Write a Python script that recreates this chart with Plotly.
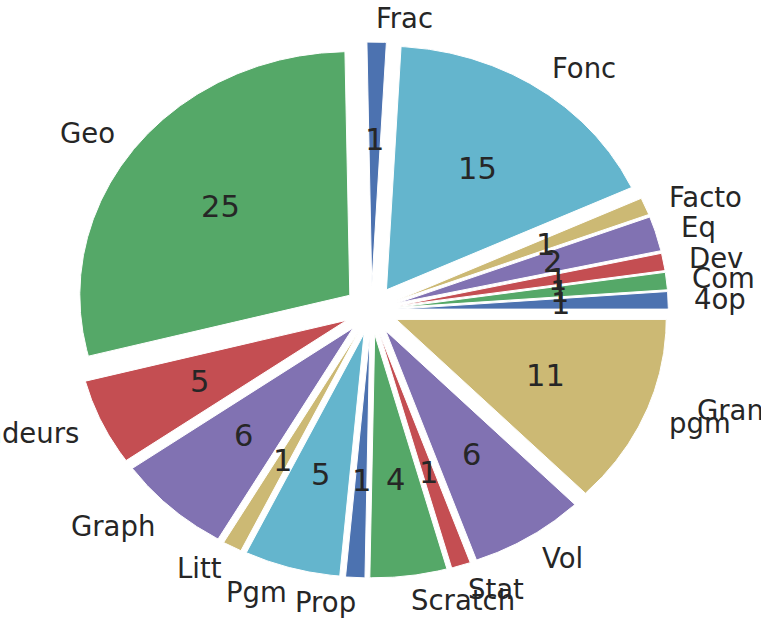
import numpy as np
import plotly.graph_objects as go

# ---- data ----
labels = ["4op", "Com", "Dev", "Eq", "Facto", "Fonc", "Frac", "Geo", "Grandeurs",
          "Graph", "Litt", "Pgm", "Prop", "Scratch", "Stat", "Vol", "pgm"]
values = [1, 1, 1, 2, 1, 15, 1, 25, 5, 6, 1, 5, 1, 4, 1, 6, 11]
palette = ["#4C72B0", "#55A868", "#C44E52", "#8172B2", "#CCB974", "#64B5CD"]
extra_label = "Grandeurs"          # overlapping stray label at right side
extra_label_pos = (1.21, -0.41)

# ---- pie geometry (matplotlib-like) ----
explode = 0.1
labeldistance = 1.1
pctdistance = 0.6
radius = 1.0
text_color = "#262626"
font_family = "DejaVu Sans"

vals = np.array(values, dtype=float)
frac = vals / vals.sum()
starts = np.concatenate([[0], np.cumsum(frac)[:-1]]) * 360.0
ends = np.cumsum(frac) * 360.0

fig = go.Figure()
annotations = []
for i, (lab, v) in enumerate(zip(labels, values)):
    t1, t2 = starts[i], ends[i]
    tm = np.deg2rad((t1 + t2) / 2)
    cx = explode * np.cos(tm)
    cy = explode * np.sin(tm)
    n = max(int((t2 - t1) * 3), 4)
    th = np.deg2rad(np.linspace(t1, t2, n))
    xs = np.concatenate([[cx], cx + radius * np.cos(th), [cx]])
    ys = np.concatenate([[cy], cy + radius * np.sin(th), [cy]])
    fig.add_trace(go.Scatter(
        x=xs, y=ys, mode="lines", fill="toself",
        fillcolor=palette[i % len(palette)],
        line=dict(color="white", width=1),
        hoverinfo="skip", showlegend=False))
    # outer label
    lx = cx + labeldistance * radius * np.cos(tm)
    ly = cy + labeldistance * radius * np.sin(tm)
    left = np.cos(tm) > 0
    annotations.append(dict(
        x=lx, y=ly, xref="x", yref="y", text=lab, showarrow=False,
        xanchor="left" if left else "right", yanchor="middle",
        xshift=-2 if left else 3, borderpad=0,
        font=dict(family=font_family, size=27.5, color=text_color)))
    # value label
    px = cx + pctdistance * radius * np.cos(tm)
    py = cy + pctdistance * radius * np.sin(tm)
    annotations.append(dict(
        x=px, y=py, xref="x", yref="y", text=str(v), showarrow=False,
        xanchor="center", yanchor="middle", borderpad=0,
        font=dict(family=font_family, size=30.5, color=text_color)))

annotations.append(dict(
    x=extra_label_pos[0], y=extra_label_pos[1], xref="x", yref="y",
    text=extra_label, showarrow=False, xanchor="left", yanchor="middle",
    xshift=-2, borderpad=0,
    font=dict(family=font_family, size=27.5, color=text_color)))

W, H = 761, 619
cx_px, cy_px = 371.3, 310.0
sx, sy = 270.0, 243.6
fig.update_layout(
    width=W, height=H,
    margin=dict(l=0, r=0, t=0, b=0),
    paper_bgcolor="white", plot_bgcolor="white",
    showlegend=False,
    annotations=annotations,
    xaxis=dict(range=[-cx_px / sx, (W - cx_px) / sx], visible=False, fixedrange=True),
    yaxis=dict(range=[-(H - cy_px) / sy, cy_px / sy], visible=False, fixedrange=True),
)
fig.write_html("out.html", config={"displayModeBar": False},
               post_script="document.body.style.margin='0';document.body.style.overflow='hidden';")
